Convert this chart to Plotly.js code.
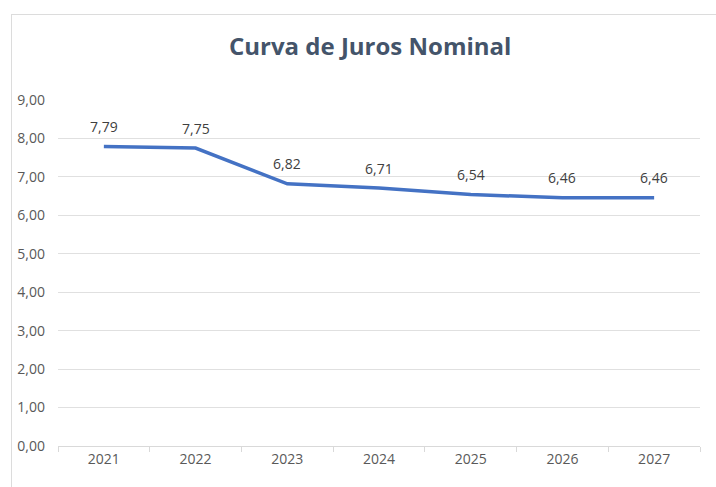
<!DOCTYPE html>
<html><head><meta charset="utf-8">
<script src="https://cdn.plot.ly/plotly-3.0.1.min.js"></script>
<style>
html,body{margin:0;padding:0;background:#fff;overflow:hidden}
#chart{position:absolute;left:0;top:0;width:716px;height:487px}
#frame{position:absolute;left:11px;top:14px;width:720px;height:490px;border:1px solid #dcdcdc;pointer-events:none}
</style></head>
<body>
<div id="chart"></div>
<div id="frame"></div>
<script>
const years = ['2021','2022','2023','2024','2025','2026','2027'];
const rates = [7.79, 7.75, 6.82, 6.71, 6.54, 6.46, 6.46];
const yTicks = [0,1,2,3,4,5,6,7,8,9];

const font = '"Open Sans", "Liberation Sans", sans-serif';
const labels = years.map((yr, i) => ({
  x: i, y: rates[i], xref: 'x', yref: 'y',
  text: rates[i].toFixed(2).replace('.', ','),
  showarrow: false, yshift: 20,
  font: {family: font, size: 14, color: '#404040'}
}));
Plotly.newPlot('chart', [{
  x: years, y: rates, type: 'scatter', mode: 'lines',
  line: {color: '#4472C4', width: 3.5},
  hoverinfo: 'skip'
}], {
  width: 716, height: 487,
  margin: {l: 58, r: 16, t: 100, b: 41},
  paper_bgcolor: '#fff', plot_bgcolor: '#fff',
  separators: ',.',
  showlegend: false,
  annotations: labels,
  title: {text: '<b>Curva de Juros Nominal</b>', x: 0.517, xanchor: 'center', y: 0.905, yanchor: 'middle',
          font: {family: font, size: 24, color: '#44546A'}},
  xaxis: {type: 'category', range: [-0.5, 6.5], tickson: 'boundaries', ticks: 'outside', ticklen: 5, tickcolor: '#d9d9d9',
          showline: true, linecolor: '#d9d9d9', linewidth: 1, showgrid: false,
          tickfont: {family: font, size: 14, color: '#595959'}, fixedrange: true},
  yaxis: {range: [0, 9], tickvals: yTicks, tickformat: '.2f', showgrid: true, gridcolor: '#e0e0e0',
          zeroline: false, showline: false, ticks: '', ticklabelstandoff: 12,
          tickfont: {family: font, size: 14, color: '#595959'}, fixedrange: true}
}, {displayModeBar: false, staticPlot: true});
</script>
</body></html>
